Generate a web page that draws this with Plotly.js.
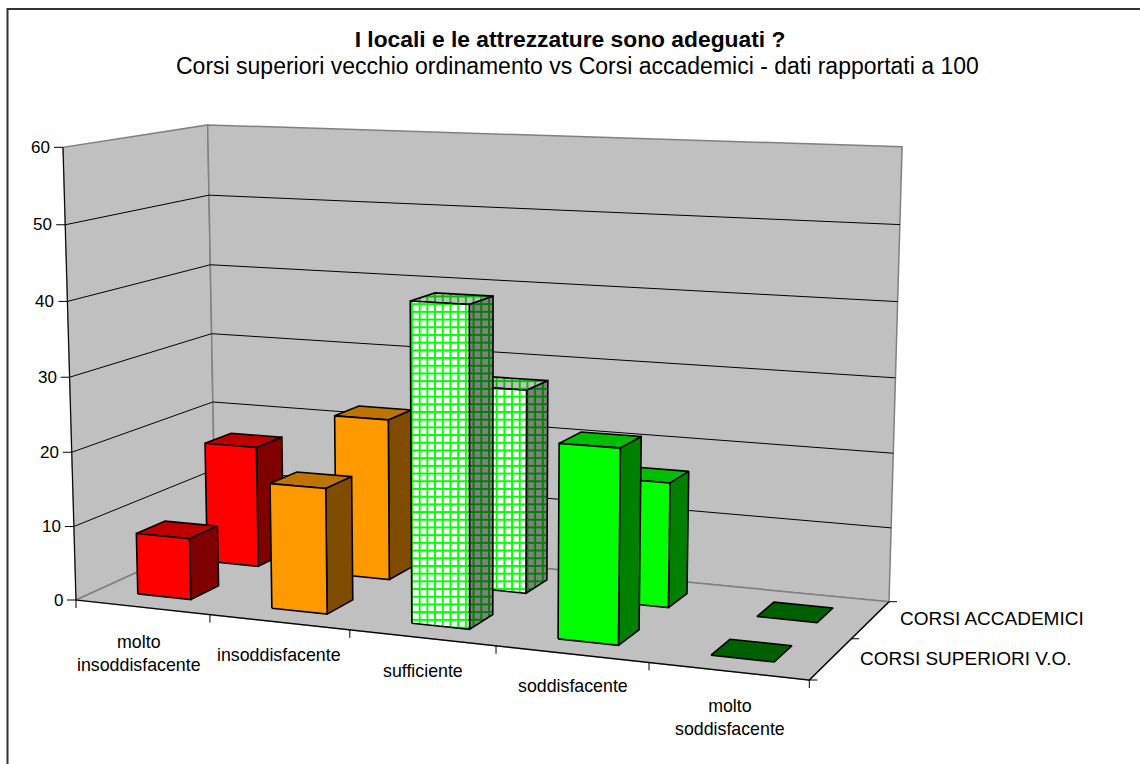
<!DOCTYPE html>
<html><head><meta charset="utf-8">
<script src="https://cdn.plot.ly/plotly-3.0.0.min.js"></script>
<style>html,body{margin:0;padding:0;background:#fff;overflow:hidden}#c{width:1140px;height:764px}</style>
</head><body><div id="c"></div>
<script>
// ---------- chart data ----------
const categories = ["molto<br>insoddisfacente","insoddisfacente","sufficiente","soddisfacente","molto<br>soddisfacente"];
const seriesNames = ["CORSI SUPERIORI V.O.","CORSI ACCADEMICI"];
const superioriVO = [8.3,16.7,41.7,25,0];
const accademici = [16.9,22.2,27.6,16.7,0];
const valueTicks = [0,10,20,30,40,50,60];
const titleMain = "I locali e le attrezzature sono adeguati ?";
const titleSub = "Corsi superiori vecchio ordinamento vs Corsi accademici - dati rapportati a 100";
// ---------- per-category colours ----------
const frontColors = ["#FF0000","#FF9900","#FFFFFF","#00FF00","#00FF00"];
const topColors = ["#BF0000","#BF7300","#BFBFBF","#00BF00","#00BF00"];
const sideColors = ["#800000","#804D00","#808080","#008000","#008000"];
const gridColors = [null,null,["#00FF00","#00BF00","#008000"],null,null];
const zeroColor = "#006000";

// ---------- projection (cat axis u 0..5, series axis v 0..2, value z 0..60) ----------
const floorQuad = [[76,600],[809.3,680],[889,601.7],[215.4,536.6]];   // FL FR BR BL
const vanish = [482,14740], vScale = -0.000517;
function homog(q){
  const [p0,p1,p2,p3]=q;
  const dx1=p1[0]-p2[0],dx2=p3[0]-p2[0],sx=p0[0]-p1[0]+p2[0]-p3[0];
  const dy1=p1[1]-p2[1],dy2=p3[1]-p2[1],sy=p0[1]-p1[1]+p2[1]-p3[1];
  const d=dx1*dy2-dx2*dy1;
  const g=(sx*dy2-dx2*sy)/d,h=(dx1*sy-sx*dy1)/d;
  return {a:p1[0]-p0[0]+g*p1[0],b:p3[0]-p0[0]+h*p3[0],c:p0[0],
          e:p1[1]-p0[1]+g*p1[1],f:p3[1]-p0[1]+h*p3[1],i:p0[1],g:g,h:h};
}
const H=homog(floorQuad);
function P(u,v,z){
  const s=u/5,t=v/2,k=z*vScale;
  const w=H.g*s+H.h*t+1+k;
  return [(H.a*s+H.b*t+H.c+k*vanish[0])/w,(H.e*s+H.f*t+H.i+k*vanish[1])/w];
}
const traces=[];
function poly(pts,fill,line,width,pattern){
  const xs=pts.map(p=>p[0]).concat([pts[0][0]]),ys=pts.map(p=>p[1]).concat([pts[0][1]]);
  const t={x:xs,y:ys,mode:'lines',fill:'toself',fillcolor:fill,
    line:{color:line,width:width},hoverinfo:'skip',showlegend:false};
  if(pattern)t.fillpattern=pattern;
  traces.push(t);
}
function seg(pts,color,width){
  traces.push({x:pts.map(p=>p[0]),y:pts.map(p=>p[1]),mode:'lines',line:{color:color,width:width},hoverinfo:'skip',showlegend:false});
}
// walls & floor
const GW='#808080';
poly([P(0,0,0),P(0,2,0),P(0,2,60),P(0,0,60)],'#C0C0C0',GW,1.5);
poly([P(0,2,0),P(5,2,0),P(5,2,60),P(0,2,60)],'#C0C0C0',GW,1.5);
poly([P(0,0,0),P(5,0,0),P(5,2,0),P(0,2,0)],'#C0C0C0',GW,1.5);
// gridlines
valueTicks.slice(1,-1).forEach(z=>seg([P(0,0,z),P(0,2,z),P(5,2,z)],'#000',1));
// axis lines
seg([P(0,0,0),P(0,0,60)],'#000',1);
seg([P(0,0,0),P(5,0,0),P(5,2,0)],'#000',1.2);
// ticks
valueTicks.forEach(z=>{const p=P(0,0,z);seg([[p[0]-9,p[1]],p],'#000',1);});
for(let u=0;u<=5;u++){const p=P(u,0,0);seg([p,[p[0],p[1]+8]],'#000',1);}
for(let v=0;v<=2;v++){const p=P(5,v,0);seg([p,[p[0]+8,p[1]]],'#000',1);}
// bars
function bar(cat,row,val){
  const u0=cat+0.3,u1=cat+0.7,v0=row+0.3,v1=row+0.7;
  if(val===0){poly([P(u0,v0,0),P(u1,v0,0),P(u1,v1,0),P(u0,v1,0)],zeroColor,'#000',1.6);return;}
  const g=gridColors[cat];
  const pat=(i,bg)=>g?{shape:'+',bgcolor:bg,fgcolor:g[i],size:7.7,solidity:0.42,fillmode:'replace'}:null;
  poly([P(u0,v0,val),P(u1,v0,val),P(u1,v1,val),P(u0,v1,val)],topColors[cat],'#000',1.6,pat(1,topColors[cat]));
  poly([P(u1,v0,0),P(u1,v1,0),P(u1,v1,val),P(u1,v0,val)],sideColors[cat],'#000',1.6,pat(2,sideColors[cat]));
  poly([P(u0,v0,0),P(u1,v0,0),P(u1,v0,val),P(u0,v0,val)],frontColors[cat],'#000',1.6,pat(0,frontColors[cat]));
}
accademici.forEach((val,i)=>bar(i,1,val));
superioriVO.forEach((val,i)=>bar(i,0,val));
// frame
seg([[7.5,764],[7.5,9],[1140,9]],'#333',2);

// ---------- text ----------
const ann=[];
const F="Liberation Sans, Arial, sans-serif";
function txt(x,y,t,size,xa){ann.push({x:x,y:y,xref:'x',yref:'y',text:t,showarrow:false,xanchor:xa||'center',yanchor:'middle',
  font:{family:F,size:size,color:'#000'},align:'center'});}
txt(577,66,titleSub,23);
valueTicks.forEach(z=>{const p=P(0,0,z);txt(p[0]-11,p[1],String(z),17,'right');});
const catPos=[[139,653],[279,654.5],[423,670.5],[573,686],[730,717]];
categories.forEach((c,i)=>txt(catPos[i][0],catPos[i][1],c,17.8));
txt(898,618,seriesNames[1],19,'left');
txt(858,658,seriesNames[0],19,'left');

Plotly.newPlot('c',traces,{
  width:1140,height:764,margin:{l:0,r:0,t:0,b:0},paper_bgcolor:'#fff',plot_bgcolor:'#fff',showlegend:false,
  title:{text:'<b>'+titleMain+'</b>',x:570/1140,xanchor:'center',xref:'paper',y:1-39/764,yanchor:'middle',yref:'container',
    font:{family:F,size:22.8,color:'#000'}},
  xaxis:{range:[0,1140],visible:false,fixedrange:true},
  yaxis:{range:[764,0],visible:false,fixedrange:true},
  annotations:ann
},{staticPlot:true,displayModeBar:false});
</script></body></html>
